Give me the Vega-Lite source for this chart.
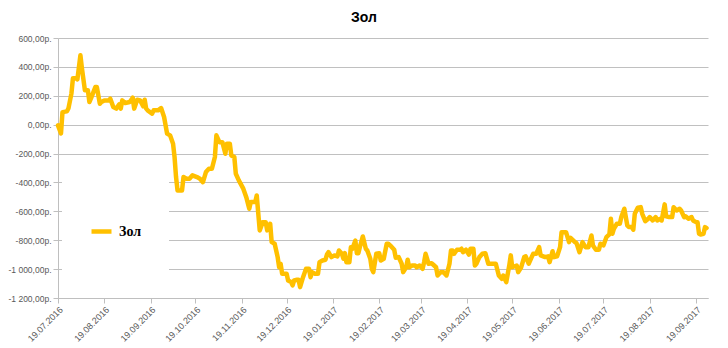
{
"$schema": "https://vega.github.io/schema/vega-lite/v6.json",
"width": 650, "height": 260,
"autosize": {"type": "none"},
"padding": {"left": 58, "top": 38, "right": 20, "bottom": 50},
"background": "white",
"title": {"text": "Зол", "fontSize": 14, "font": "Liberation Sans", "fontWeight": "bold", "color": "#000000", "offset": 9, "dx": -19, "anchor": "middle"},
"data": {"values": [
{"d":"2016-07-19","v":-5},{"d":"2016-07-21","v":-60},{"d":"2016-07-22","v":87},{"d":"2016-07-25","v":92},{"d":"2016-07-26","v":113},{"d":"2016-07-28","v":217},{"d":"2016-07-29","v":321},{"d":"2016-07-31","v":321},{"d":"2016-08-01","v":314},{"d":"2016-08-03","v":480},{"d":"2016-08-04","v":390},{"d":"2016-08-06","v":238},{"d":"2016-08-08","v":238},{"d":"2016-08-09","v":157},{"d":"2016-08-10","v":180},{"d":"2016-08-13","v":260},{"d":"2016-08-14","v":260},{"d":"2016-08-16","v":145},{"d":"2016-08-17","v":157},{"d":"2016-08-19","v":168},{"d":"2016-08-22","v":168},{"d":"2016-08-23","v":180},{"d":"2016-08-25","v":122},{"d":"2016-08-27","v":111},{"d":"2016-08-29","v":141},{"d":"2016-08-30","v":111},{"d":"2016-08-31","v":168},{"d":"2016-09-02","v":150},{"d":"2016-09-05","v":157},{"d":"2016-09-07","v":187},{"d":"2016-09-08","v":111},{"d":"2016-09-10","v":173},{"d":"2016-09-12","v":168},{"d":"2016-09-14","v":127},{"d":"2016-09-15","v":173},{"d":"2016-09-16","v":111},{"d":"2016-09-17","v":99},{"d":"2016-09-20","v":76},{"d":"2016-09-21","v":99},{"d":"2016-09-24","v":99},{"d":"2016-09-26","v":115},{"d":"2016-09-28","v":53},{"d":"2016-09-30","v":-62},{"d":"2016-10-02","v":-74},{"d":"2016-10-04","v":-132},{"d":"2016-10-05","v":-224},{"d":"2016-10-06","v":-363},{"d":"2016-10-07","v":-455},{"d":"2016-10-10","v":-455},{"d":"2016-10-11","v":-363},{"d":"2016-10-13","v":-374},{"d":"2016-10-15","v":-374},{"d":"2016-10-17","v":-351},{"d":"2016-10-20","v":-363},{"d":"2016-10-22","v":-374},{"d":"2016-10-24","v":-398},{"d":"2016-10-26","v":-328},{"d":"2016-10-28","v":-305},{"d":"2016-10-30","v":-305},{"d":"2016-11-01","v":-224},{"d":"2016-11-02","v":-74},{"d":"2016-11-04","v":-121},{"d":"2016-11-06","v":-121},{"d":"2016-11-08","v":-201},{"d":"2016-11-09","v":-132},{"d":"2016-11-11","v":-132},{"d":"2016-11-12","v":-213},{"d":"2016-11-14","v":-224},{"d":"2016-11-15","v":-340},{"d":"2016-11-17","v":-386},{"d":"2016-11-20","v":-443},{"d":"2016-11-22","v":-502},{"d":"2016-11-24","v":-582},{"d":"2016-11-25","v":-536},{"d":"2016-11-28","v":-536},{"d":"2016-11-29","v":-490},{"d":"2016-12-01","v":-732},{"d":"2016-12-03","v":-675},{"d":"2016-12-05","v":-675},{"d":"2016-12-06","v":-732},{"d":"2016-12-08","v":-686},{"d":"2016-12-09","v":-813},{"d":"2016-12-11","v":-824},{"d":"2016-12-13","v":-917},{"d":"2016-12-14","v":-987},{"d":"2016-12-15","v":-963},{"d":"2016-12-16","v":-1032},{"d":"2016-12-19","v":-1032},{"d":"2016-12-20","v":-1079},{"d":"2016-12-22","v":-1090},{"d":"2016-12-23","v":-1113},{"d":"2016-12-24","v":-1079},{"d":"2016-12-26","v":-1074},{"d":"2016-12-27","v":-1074},{"d":"2016-12-28","v":-1125},{"d":"2016-12-30","v":-1056},{"d":"2017-01-01","v":-998},{"d":"2017-01-03","v":-998},{"d":"2017-01-04","v":-1056},{"d":"2017-01-05","v":-1021},{"d":"2017-01-07","v":-1032},{"d":"2017-01-09","v":-1032},{"d":"2017-01-10","v":-952},{"d":"2017-01-12","v":-940},{"d":"2017-01-14","v":-935},{"d":"2017-01-15","v":-899},{"d":"2017-01-16","v":-883},{"d":"2017-01-18","v":-917},{"d":"2017-01-20","v":-905},{"d":"2017-01-22","v":-912},{"d":"2017-01-23","v":-871},{"d":"2017-01-25","v":-894},{"d":"2017-01-26","v":-928},{"d":"2017-01-27","v":-889},{"d":"2017-01-28","v":-952},{"d":"2017-01-30","v":-952},{"d":"2017-01-31","v":-848},{"d":"2017-02-01","v":-859},{"d":"2017-02-03","v":-802},{"d":"2017-02-04","v":-890},{"d":"2017-02-05","v":-890},{"d":"2017-02-06","v":-848},{"d":"2017-02-08","v":-774},{"d":"2017-02-10","v":-859},{"d":"2017-02-11","v":-871},{"d":"2017-02-13","v":-928},{"d":"2017-02-14","v":-998},{"d":"2017-02-15","v":-1021},{"d":"2017-02-17","v":-894},{"d":"2017-02-19","v":-890},{"d":"2017-02-20","v":-940},{"d":"2017-02-22","v":-928},{"d":"2017-02-24","v":-824},{"d":"2017-02-25","v":-824},{"d":"2017-02-27","v":-843},{"d":"2017-03-01","v":-866},{"d":"2017-03-02","v":-921},{"d":"2017-03-04","v":-917},{"d":"2017-03-06","v":-963},{"d":"2017-03-07","v":-1021},{"d":"2017-03-09","v":-987},{"d":"2017-03-10","v":-935},{"d":"2017-03-11","v":-987},{"d":"2017-03-13","v":-975},{"d":"2017-03-15","v":-975},{"d":"2017-03-16","v":-987},{"d":"2017-03-18","v":-975},{"d":"2017-03-20","v":-998},{"d":"2017-03-21","v":-952},{"d":"2017-03-22","v":-894},{"d":"2017-03-24","v":-963},{"d":"2017-03-26","v":-959},{"d":"2017-03-27","v":-968},{"d":"2017-03-29","v":-987},{"d":"2017-03-30","v":-1044},{"d":"2017-04-01","v":-1021},{"d":"2017-04-03","v":-1021},{"d":"2017-04-05","v":-1044},{"d":"2017-04-07","v":-963},{"d":"2017-04-08","v":-871},{"d":"2017-04-09","v":-871},{"d":"2017-04-10","v":-894},{"d":"2017-04-12","v":-866},{"d":"2017-04-14","v":-866},{"d":"2017-04-15","v":-859},{"d":"2017-04-16","v":-883},{"d":"2017-04-18","v":-866},{"d":"2017-04-20","v":-899},{"d":"2017-04-21","v":-859},{"d":"2017-04-23","v":-859},{"d":"2017-04-24","v":-975},{"d":"2017-04-25","v":-963},{"d":"2017-04-27","v":-917},{"d":"2017-04-29","v":-894},{"d":"2017-05-01","v":-890},{"d":"2017-05-03","v":-963},{"d":"2017-05-05","v":-963},{"d":"2017-05-08","v":-963},{"d":"2017-05-10","v":-1044},{"d":"2017-05-12","v":-1067},{"d":"2017-05-13","v":-1044},{"d":"2017-05-15","v":-1090},{"d":"2017-05-17","v":-975},{"d":"2017-05-18","v":-905},{"d":"2017-05-19","v":-987},{"d":"2017-05-22","v":-975},{"d":"2017-05-23","v":-1021},{"d":"2017-05-25","v":-987},{"d":"2017-05-27","v":-917},{"d":"2017-05-28","v":-912},{"d":"2017-05-30","v":-963},{"d":"2017-06-01","v":-917},{"d":"2017-06-02","v":-894},{"d":"2017-06-04","v":-894},{"d":"2017-06-06","v":-848},{"d":"2017-06-07","v":-905},{"d":"2017-06-10","v":-917},{"d":"2017-06-12","v":-912},{"d":"2017-06-13","v":-952},{"d":"2017-06-15","v":-876},{"d":"2017-06-16","v":-917},{"d":"2017-06-18","v":-912},{"d":"2017-06-20","v":-848},{"d":"2017-06-21","v":-744},{"d":"2017-06-24","v":-744},{"d":"2017-06-26","v":-813},{"d":"2017-06-27","v":-783},{"d":"2017-06-30","v":-813},{"d":"2017-07-01","v":-820},{"d":"2017-07-03","v":-883},{"d":"2017-07-05","v":-813},{"d":"2017-07-07","v":-848},{"d":"2017-07-09","v":-848},{"d":"2017-07-11","v":-767},{"d":"2017-07-12","v":-836},{"d":"2017-07-14","v":-866},{"d":"2017-07-16","v":-866},{"d":"2017-07-17","v":-824},{"d":"2017-07-19","v":-836},{"d":"2017-07-21","v":-779},{"d":"2017-07-23","v":-760},{"d":"2017-07-24","v":-651},{"d":"2017-07-25","v":-755},{"d":"2017-07-26","v":-721},{"d":"2017-07-28","v":-686},{"d":"2017-07-30","v":-686},{"d":"2017-07-31","v":-640},{"d":"2017-08-02","v":-582},{"d":"2017-08-04","v":-698},{"d":"2017-08-05","v":-709},{"d":"2017-08-07","v":-709},{"d":"2017-08-08","v":-727},{"d":"2017-08-09","v":-617},{"d":"2017-08-11","v":-575},{"d":"2017-08-13","v":-571},{"d":"2017-08-14","v":-617},{"d":"2017-08-16","v":-668},{"d":"2017-08-18","v":-651},{"d":"2017-08-19","v":-640},{"d":"2017-08-21","v":-663},{"d":"2017-08-23","v":-640},{"d":"2017-08-24","v":-663},{"d":"2017-08-26","v":-651},{"d":"2017-08-27","v":-663},{"d":"2017-08-29","v":-552},{"d":"2017-08-30","v":-635},{"d":"2017-09-01","v":-640},{"d":"2017-09-03","v":-640},{"d":"2017-09-04","v":-571},{"d":"2017-09-06","v":-594},{"d":"2017-09-08","v":-582},{"d":"2017-09-09","v":-594},{"d":"2017-09-11","v":-640},{"d":"2017-09-12","v":-635},{"d":"2017-09-14","v":-651},{"d":"2017-09-16","v":-640},{"d":"2017-09-17","v":-663},{"d":"2017-09-19","v":-675},{"d":"2017-09-20","v":-675},{"d":"2017-09-21","v":-755},{"d":"2017-09-22","v":-760},{"d":"2017-09-24","v":-755},{"d":"2017-09-25","v":-709},{"d":"2017-09-26","v":-716}
]},
"mark": {"type": "line", "strokeWidth": 4.5, "strokeJoin": "round", "strokeCap": "round"},
"encoding": {
  "x": {"field": "d", "type": "temporal",
    "scale": {"type": "utc", "domain": [{"year": 2016, "month": 7, "date": 19, "utc": true}, {"year": 2017, "month": 9, "date": 27, "utc": true}]},
    "axis": {"title": null, "grid": false, "labelExpr": "utcFormat(datum.value, '%d.%m.%Y')", "labelAngle": -45, "labelAlign": "right", "labelBaseline": "top",
      "labelFont": "Liberation Sans", "labelFontSize": 9, "labelColor": "#595959", "labelOverlap": false, "labelFlush": false, "labelPadding": 2,
      "tickColor": "#bfbfbf", "domainColor": "#bfbfbf", "tickSize": 5,
      "values": [{"year": 2016, "month": 7, "date": 19, "utc": true}, {"year": 2016, "month": 8, "date": 19, "utc": true}, {"year": 2016, "month": 9, "date": 19, "utc": true}, {"year": 2016, "month": 10, "date": 19, "utc": true}, {"year": 2016, "month": 11, "date": 19, "utc": true}, {"year": 2016, "month": 12, "date": 19, "utc": true}, {"year": 2017, "month": 1, "date": 19, "utc": true}, {"year": 2017, "month": 2, "date": 19, "utc": true}, {"year": 2017, "month": 3, "date": 19, "utc": true}, {"year": 2017, "month": 4, "date": 19, "utc": true}, {"year": 2017, "month": 5, "date": 19, "utc": true}, {"year": 2017, "month": 6, "date": 19, "utc": true}, {"year": 2017, "month": 7, "date": 19, "utc": true}, {"year": 2017, "month": 8, "date": 19, "utc": true}, {"year": 2017, "month": 9, "date": 19, "utc": true}]}},
  "y": {"field": "v", "type": "quantitative",
    "scale": {"domain": [-1200, 600], "nice": false},
    "axis": {"title": null, "values": [-1200, -1000, -800, -600, -400, -200, 0, 200, 400, 600],
      "labelExpr": "replace(replace(replace(format(datum.value, ',.2f'), ',', ' '), '.', ','), '\u2212', '-') + 'р.'",
      "labelFont": "Liberation Sans", "labelFontSize": 8.5, "labelColor": "#595959", "labelPadding": 2,
      "grid": true, "gridColor": "#c0c0c0", "gridWidth": 1, "tickColor": "#bfbfbf", "domainColor": "#bfbfbf", "tickSize": 5}},
  "color": {"datum": "Зол", "type": "nominal", "scale": {"range": ["#FFC000"]},
    "legend": {"title": " ", "titleFontSize": 10, "titlePadding": 4, "orient": "none", "legendX": 4, "legendY": 140, "padding": 27, "fillColor": "white",
      "symbolType": "M-1,0L1,0M1,2.3", "symbolSize": 400, "symbolStrokeWidth": 4.5, "labelFont": "Liberation Serif", "labelFontSize": 14, "labelFontWeight": "bold", "labelColor": "#000000", "labelOffset": 5}}
},
"config": {"view": {"stroke": null}}
}
